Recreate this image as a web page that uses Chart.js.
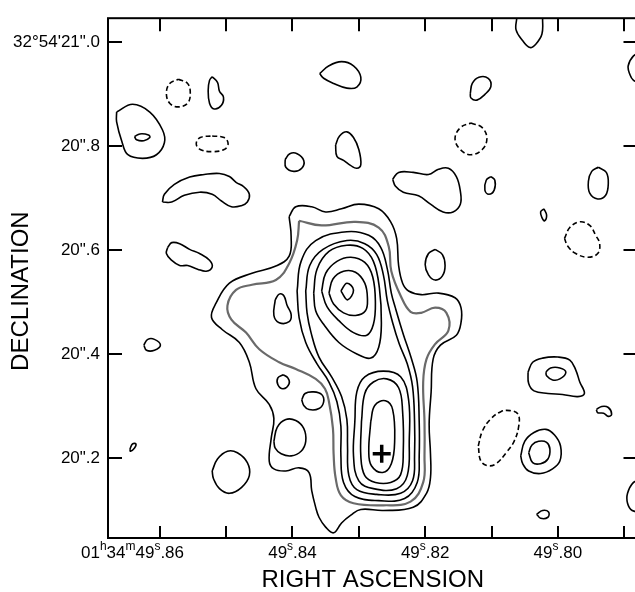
<!DOCTYPE html>
<html>
<head>
<meta charset="utf-8">
<script src="https://cdn.jsdelivr.net/npm/chart.js@4.4.0/dist/chart.umd.min.js"></script>
<style>
html, body { margin: 0; padding: 0; background: #fff; overflow: hidden; }
#wrap { position: relative; width: 650px; height: 592px; }
</style>
</head>
<body>
<div id="wrap"><canvas id="map"></canvas></div>
<script>
// axes
const raTicks = [49.86, 49.85, 49.84, 49.83, 49.82, 49.81, 49.80, 49.79];
const raLabelValues = [49.86, 49.84, 49.82, 49.80];
const raLabels = ['01h34m49s.86', '49s.84', '49s.82', '49s.80'];
const decTicks = [21.0, 20.8, 20.6, 20.4, 20.2];
const decLabels = ['32°54\'21".0', '20".8', '20".6', '20".4', '20".2'];
const raRange = [49.788, 49.8678];
const decRange = [20.0461, 21.0455];
const decTitle = 'DECLINATION';
const raTitle = 'RIGHT ASCENSION';

// contours, [RA seconds, Dec arcsec]
const nwOuter = [[49.8665,20.865],[49.8641,20.880],[49.8615,20.865],[49.8596,20.831],[49.8593,20.806],[49.8605,20.783],[49.8626,20.776],[49.8648,20.783],[49.8657,20.808],[49.8665,20.846]];
const nwInner = [[49.8638,20.818],[49.8630,20.823],[49.8617,20.821],[49.8615,20.816],[49.8624,20.810],[49.8635,20.812]];
const loopA = [[49.8521,20.933],[49.8513,20.922],[49.8510,20.905],[49.8504,20.894],[49.8507,20.878],[49.8518,20.871],[49.8525,20.882],[49.8527,20.907],[49.8525,20.926]];
const loopB = [[49.8411,20.774],[49.8404,20.785],[49.8393,20.785],[49.8383,20.772],[49.8386,20.757],[49.8398,20.751],[49.8410,20.759]];
const arcW = [[49.8596,20.692],[49.8593,20.707],[49.8578,20.726],[49.8555,20.740],[49.8533,20.745],[49.8510,20.747],[49.8495,20.741],[49.8485,20.730],[49.8473,20.721],[49.8465,20.707],[49.8468,20.692],[49.8477,20.685],[49.8492,20.683],[49.8507,20.694],[49.8521,20.707],[49.8540,20.711],[49.8563,20.705],[49.8582,20.692]];
const blobW = [[49.8588,20.605],[49.8582,20.614],[49.8570,20.612],[49.8555,20.601],[49.8540,20.593],[49.8525,20.580],[49.8521,20.567],[49.8530,20.559],[49.8543,20.563],[49.8558,20.570],[49.8570,20.570],[49.8582,20.580],[49.8590,20.593]];
const loopC = [[49.8624,20.417],[49.8618,20.428],[49.8608,20.428],[49.8599,20.417],[49.8608,20.407],[49.8620,20.407]];
const dotW = [[49.8645,20.217],[49.8641,20.227],[49.8636,20.227],[49.8638,20.219],[49.8644,20.213]];
const loopSW = [[49.8521,20.175],[49.8513,20.198],[49.8498,20.213],[49.8483,20.210],[49.8468,20.191],[49.8465,20.166],[49.8477,20.143],[49.8495,20.132],[49.8510,20.141],[49.8519,20.160]];
const loopN = [[49.8359,20.939],[49.8345,20.954],[49.8326,20.962],[49.8308,20.954],[49.8297,20.932],[49.8303,20.913],[49.8318,20.911],[49.8338,20.920],[49.8353,20.930]];
const loopNE = [[49.8132,20.901],[49.8129,20.920],[49.8119,20.932],[49.8105,20.930],[49.8101,20.914],[49.8110,20.899],[49.8122,20.888],[49.8131,20.892]];
const edgeTop = [[49.8062,21.059],[49.8062,21.046],[49.8063,21.023],[49.8053,21.002],[49.8042,20.989],[49.8033,20.996],[49.8024,21.015],[49.8023,21.046],[49.8023,21.059]];
const edgeRightN = [[49.7873,20.981],[49.7886,20.973],[49.7894,20.954],[49.7892,20.939],[49.7886,20.926],[49.7873,20.920]];
const loopD = [[49.8335,20.802],[49.8329,20.819],[49.8318,20.827],[49.8308,20.816],[49.8300,20.793],[49.8297,20.764],[49.8303,20.757],[49.8312,20.762],[49.8323,20.772],[49.8333,20.780]];
const loopE = [[49.8249,20.736],[49.8240,20.749],[49.8218,20.749],[49.8195,20.745],[49.8180,20.755],[49.8165,20.757],[49.8153,20.741],[49.8147,20.713],[49.8147,20.688],[49.8158,20.673],[49.8173,20.673],[49.8192,20.688],[49.8210,20.704],[49.8233,20.711],[49.8245,20.723]];
const dotE = [[49.8101,20.741],[49.8095,20.734],[49.8096,20.715],[49.8104,20.707],[49.8110,20.715],[49.8108,20.734]];
const loopF = [[49.7939,20.759],[49.7927,20.749],[49.7924,20.728],[49.7928,20.705],[49.7940,20.698],[49.7952,20.709],[49.7954,20.732],[49.7949,20.751]];
const dotF = [[49.8021,20.679],[49.8017,20.667],[49.8020,20.656],[49.8024,20.662],[49.8026,20.673]];
const loopG = [[49.8185,20.601],[49.8174,20.591],[49.8170,20.570],[49.8174,20.550],[49.8185,20.542],[49.8195,20.552],[49.8200,20.572],[49.8195,20.593]];
const loopHOuter = [[49.8045,20.365],[49.8038,20.384],[49.8023,20.392],[49.8000,20.394],[49.7982,20.388],[49.7973,20.369],[49.7967,20.346],[49.7960,20.324],[49.7970,20.318],[49.7993,20.322],[49.8015,20.324],[49.8036,20.329],[49.8044,20.343]];
const loopHInner = [[49.8018,20.365],[49.8011,20.373],[49.7997,20.373],[49.7988,20.365],[49.7997,20.352],[49.8008,20.350],[49.8017,20.358]];
const dotH = [[49.7942,20.293],[49.7934,20.299],[49.7924,20.297],[49.7919,20.284],[49.7924,20.280],[49.7931,20.286],[49.7940,20.287]];
const loopIOuter = [[49.8056,20.204],[49.8050,20.232],[49.8036,20.249],[49.8018,20.255],[49.8005,20.244],[49.7996,20.223],[49.7997,20.194],[49.8008,20.179],[49.8026,20.170],[49.8044,20.175],[49.8053,20.189]];
const loopIInner = [[49.8044,20.210],[49.8039,20.225],[49.8029,20.232],[49.8017,20.230],[49.8012,20.217],[49.8015,20.198],[49.8026,20.189],[49.8038,20.191]];
const dotS = [[49.8032,20.092],[49.8023,20.099],[49.8014,20.096],[49.8015,20.086],[49.8026,20.084]];
const edgeRightS = [[49.7873,20.160],[49.7886,20.153],[49.7895,20.132],[49.7895,20.113],[49.7888,20.099],[49.7873,20.096]];

// negative contours
const dashA = [[49.8572,20.928],[49.8558,20.920],[49.8554,20.901],[49.8558,20.882],[49.8572,20.875],[49.8585,20.882],[49.8590,20.901],[49.8585,20.920]];
const dashB = [[49.8521,20.819],[49.8503,20.816],[49.8497,20.804],[49.8503,20.793],[49.8521,20.789],[49.8539,20.793],[49.8545,20.804],[49.8539,20.816]];
const dashC = [[49.8131,20.844],[49.8114,20.835],[49.8107,20.814],[49.8114,20.793],[49.8131,20.783],[49.8147,20.793],[49.8155,20.814],[49.8147,20.835]];
const dashD = [[49.7990,20.622],[49.7982,20.643],[49.7967,20.654],[49.7952,20.647],[49.7943,20.628],[49.7937,20.612],[49.7940,20.593],[49.7955,20.586],[49.7973,20.593],[49.7985,20.607]];
const dashE = [[49.8120,20.223],[49.8114,20.251],[49.8102,20.274],[49.8086,20.289],[49.8072,20.291],[49.8060,20.284],[49.8059,20.261],[49.8066,20.232],[49.8078,20.210],[49.8093,20.189],[49.8105,20.185],[49.8116,20.194]];

// source
const knotA = [[49.8426,20.504],[49.8420,20.515],[49.8413,20.512],[49.8408,20.493],[49.8402,20.476],[49.8405,20.462],[49.8420,20.460],[49.8428,20.474]];
const knotB = [[49.8414,20.360],[49.8407,20.354],[49.8405,20.343],[49.8414,20.333],[49.8422,20.341],[49.8422,20.354]];
const knotC = [[49.8386,20.312],[49.8381,20.324],[49.8368,20.327],[49.8356,20.322],[49.8353,20.308],[49.8360,20.295],[49.8375,20.293],[49.8383,20.301]];
const knotD = [[49.8428,20.232],[49.8423,20.259],[49.8410,20.274],[49.8395,20.272],[49.8383,20.257],[49.8380,20.232],[49.8387,20.213],[49.8402,20.204],[49.8417,20.208],[49.8426,20.219]];
const coreN4 = [[49.8327,20.521],[49.8318,20.536],[49.8308,20.523],[49.8317,20.504]];
const coreN3 = [[49.8345,20.517],[49.8339,20.544],[49.8323,20.559],[49.8305,20.557],[49.8291,20.536],[49.8287,20.506],[49.8290,20.483],[49.8305,20.474],[49.8323,20.479],[49.8338,20.496]];
const coreN2 = [[49.8356,20.521],[49.8350,20.555],[49.8333,20.578],[49.8312,20.586],[49.8291,20.576],[49.8279,20.548],[49.8275,20.498],[49.8278,20.457],[49.8288,20.436],[49.8308,20.441],[49.8330,20.464],[49.8348,20.491]];
const coreN1 = [[49.8368,20.517],[49.8363,20.563],[49.8345,20.597],[49.8318,20.609],[49.8294,20.603],[49.8278,20.578],[49.8269,20.527],[49.8266,20.460],[49.8270,20.413],[49.8282,20.392],[49.8303,20.400],[49.8330,20.422],[49.8353,20.457],[49.8365,20.483]];
const coreS3 = [[49.8282,20.270],[49.8276,20.301],[49.8260,20.310],[49.8249,20.293],[49.8246,20.232],[49.8251,20.189],[49.8264,20.172],[49.8281,20.185],[49.8285,20.213]];
const coreS2 = [[49.8296,20.270],[49.8291,20.324],[49.8278,20.346],[49.8258,20.352],[49.8240,20.335],[49.8234,20.289],[49.8233,20.213],[49.8237,20.168],[49.8252,20.153],[49.8275,20.153],[49.8291,20.166],[49.8297,20.204]];
const coreS1 = [[49.8306,20.270],[49.8303,20.327],[49.8291,20.356],[49.8263,20.367],[49.8237,20.356],[49.8225,20.312],[49.8224,20.232],[49.8227,20.166],[49.8243,20.141],[49.8278,20.141],[49.8300,20.156],[49.8308,20.204]];
const ridge2 = [[49.8380,20.521],[49.8374,20.570],[49.8354,20.601],[49.8318,20.618],[49.8291,20.612],[49.8273,20.591],[49.8263,20.552],[49.8257,20.502],[49.8249,20.460],[49.8239,20.419],[49.8227,20.381],[49.8219,20.337],[49.8216,20.270],[49.8216,20.204],[49.8219,20.156],[49.8237,20.132],[49.8273,20.130],[49.8303,20.139],[49.8315,20.166],[49.8317,20.223],[49.8318,20.274],[49.8326,20.318],[49.8341,20.356],[49.8360,20.394],[49.8372,20.441],[49.8378,20.479]];
const ridge1 = [[49.8393,20.521],[49.8387,20.578],[49.8365,20.618],[49.8318,20.635],[49.8285,20.628],[49.8267,20.605],[49.8257,20.563],[49.8251,20.517],[49.8245,20.489],[49.8233,20.438],[49.8221,20.392],[49.8212,20.346],[49.8209,20.270],[49.8209,20.204],[49.8212,20.153],[49.8231,20.122],[49.8270,20.118],[49.8306,20.126],[49.8323,20.153],[49.8327,20.204],[49.8327,20.261],[49.8333,20.308],[49.8345,20.346],[49.8363,20.381],[49.8380,20.422],[49.8390,20.470]];
const plateau = [[49.8390,20.656],[49.8356,20.647],[49.8305,20.654],[49.8270,20.643],[49.8255,20.607],[49.8251,20.559],[49.8237,20.512],[49.8222,20.481],[49.8206,20.479],[49.8185,20.489],[49.8168,20.479],[49.8165,20.445],[49.8185,20.419],[49.8198,20.390],[49.8203,20.346],[49.8201,20.270],[49.8201,20.204],[49.8203,20.153],[49.8222,20.116],[49.8263,20.109],[49.8308,20.113],[49.8327,20.128],[49.8335,20.162],[49.8338,20.208],[49.8339,20.257],[49.8345,20.308],[49.8351,20.333],[49.8365,20.352],[49.8395,20.371],[49.8420,20.384],[49.8450,20.409],[49.8470,20.441],[49.8492,20.466],[49.8498,20.493],[49.8485,20.523],[49.8461,20.533],[49.8425,20.542],[49.8405,20.574],[49.8393,20.618]];
const outer = [[49.8405,20.664],[49.8395,20.683],[49.8371,20.683],[49.8350,20.673],[49.8326,20.679],[49.8300,20.688],[49.8270,20.679],[49.8252,20.654],[49.8243,20.622],[49.8240,20.570],[49.8234,20.536],[49.8225,20.521],[49.8206,20.514],[49.8180,20.517],[49.8155,20.508],[49.8146,20.489],[49.8146,20.460],[49.8153,20.436],[49.8177,20.417],[49.8188,20.390],[49.8191,20.327],[49.8194,20.265],[49.8192,20.208],[49.8192,20.162],[49.8198,20.132],[49.8218,20.105],[49.8263,20.099],[49.8297,20.101],[49.8312,20.090],[49.8326,20.075],[49.8338,20.056],[49.8350,20.067],[49.8360,20.086],[49.8365,20.105],[49.8371,20.137],[49.8375,20.172],[49.8390,20.181],[49.8410,20.175],[49.8428,20.179],[49.8435,20.194],[49.8432,20.238],[49.8428,20.276],[49.8435,20.303],[49.8455,20.333],[49.8465,20.384],[49.8480,20.422],[49.8506,20.447],[49.8522,20.470],[49.8515,20.498],[49.8495,20.536],[49.8461,20.555],[49.8425,20.569],[49.8405,20.588],[49.8402,20.626]];
const peak = [[49.82655, 20.208]];

const solidLoops = [nwOuter, nwInner, loopA, loopB, arcW, blobW, loopC, dotW, loopSW, loopN, loopNE,
	loopD, loopE, dotE, loopF, dotF, loopG, loopHOuter, loopHInner, dotH, loopIOuter, loopIInner, dotS,
	knotA, knotB, knotC, knotD, coreN4, coreN3, coreN2, coreN1, coreS3, coreS2, coreS1, ridge2, ridge1, outer];
const openLines = [edgeTop, edgeRightN, edgeRightS];
const dashedLoops = [dashA, dashB, dashC, dashD, dashE];

const FONT = '"Liberation Sans", Arial, Helvetica, sans-serif';
Chart.defaults.font.family = FONT;
Chart.defaults.color = '#000';

function toXY(pts, closed){
	const list = closed ? pts.concat([pts[0]]) : pts;
	return list.map(p => ({ x: p[0], y: p[1] }));
}

function contour(pts, closed, extra){
	return Object.assign({
		data: toXY(pts, closed),
		showLine: true,
		borderColor: '#000',
		borderWidth: 1.6,
		pointRadius: 0,
		tension: 0.4
	}, extra || {});
}

const datasets = [];
datasets.push(contour(plateau, true, { borderColor: '#6a6a6a', borderWidth: 2.2 }));
solidLoops.forEach(c => datasets.push(contour(c, true)));
openLines.forEach(c => datasets.push(contour(c, false)));
dashedLoops.forEach(c => datasets.push(contour(c, true, { borderDash: [5, 3] })));
datasets.push({
	data: toXY(peak, false),
	pointStyle: 'cross',
	pointRadius: 9,
	pointBorderWidth: 3.5,
	pointBorderColor: '#000',
	showLine: false
});

function splitUnits(str){
	return str.split(/([hms])/).filter(Boolean).map(t => ({ t, sup: /^[hms]$/.test(t) }));
}

const frame = {
	id: 'frame',
	afterDraw(chart){
		const { ctx, chartArea: a, scales: { x, y } } = chart;
		ctx.save();
		ctx.strokeStyle = '#000';
		ctx.lineWidth = 2;
		ctx.strokeRect(a.left, a.top, a.right - a.left, a.bottom - a.top);
		ctx.beginPath();
		raTicks.forEach(v => {
			const px = Math.round(x.getPixelForValue(v));
			ctx.moveTo(px, a.bottom); ctx.lineTo(px, a.bottom - 12);
			ctx.moveTo(px, a.top); ctx.lineTo(px, a.top + 13);
		});
		decTicks.forEach(v => {
			const py = Math.round(y.getPixelForValue(v));
			ctx.moveTo(a.left, py); ctx.lineTo(a.left + 14, py);
			ctx.moveTo(a.right, py); ctx.lineTo(a.right - 14, py);
		});
		ctx.stroke();

		// RA labels with raised h m s
		const big = '17px ' + FONT, small = '12px ' + FONT;
		const base = a.bottom + 20;
		ctx.fillStyle = '#000';
		ctx.textAlign = 'left';
		ctx.textBaseline = 'alphabetic';
		const widthOf = parts => parts.reduce((w, p) => { ctx.font = p.sup ? small : big; return w + ctx.measureText(p.t).width; }, 0);
		raLabelValues.forEach((v, i) => {
			const label = raLabels[i];
			const cut = label.lastIndexOf('49');
			const head = splitUnits(label.slice(0, cut));
			const main = splitUnits(label.slice(cut));
			let cx = x.getPixelForValue(v) - widthOf(main) / 2 - widthOf(head);
			head.concat(main).forEach(p => {
				ctx.font = p.sup ? small : big;
				ctx.fillText(p.t, cx, p.sup ? base - 8 : base);
				cx += ctx.measureText(p.t).width;
			});
		});

		// declination title, centred on the printed figure's axis
		ctx.font = '24px ' + FONT;
		ctx.textAlign = 'center';
		ctx.textBaseline = 'middle';
		ctx.translate(21, (a.top + a.bottom) / 2 + 13);
		ctx.rotate(-Math.PI / 2);
		ctx.fillText(decTitle, 0, 0);
		ctx.restore();
	}
};

new Chart(document.getElementById('map'), {
	type: 'scatter',
	data: { datasets },
	options: {
		responsive: true,
		maintainAspectRatio: false,
		animation: false,
		layout: { padding: { top: 12, right: 10, left: 0, bottom: 0 } },
		elements: { line: { capBezierPoints: false } },
		plugins: { legend: { display: false }, tooltip: { enabled: false } },
		scales: {
			x: {
				type: 'linear',
				reverse: true,
				min: raRange[0],
				max: raRange[1],
				grid: { display: false, drawTicks: false },
				border: { display: false },
				ticks: { display: false },
				title: { display: true, text: raTitle, font: { size: 24, lineHeight: 1 }, padding: { top: 0, bottom: 0 } },
				afterFit: s => { s.height = 54; }
			},
			y: {
				type: 'linear',
				min: decRange[0],
				max: decRange[1],
				grid: { display: false, drawTicks: false },
				border: { display: false },
				afterBuildTicks: s => { s.ticks = decTicks.map(v => ({ value: v })); },
				ticks: {
					padding: 8,
					font: { size: 17 },
					callback: (value, index) => decLabels[index]
				},
				title: { display: false },
				afterFit: s => { s.width = 108; }
			}
		}
	},
	plugins: [frame]
});
</script>
</body>
</html>
